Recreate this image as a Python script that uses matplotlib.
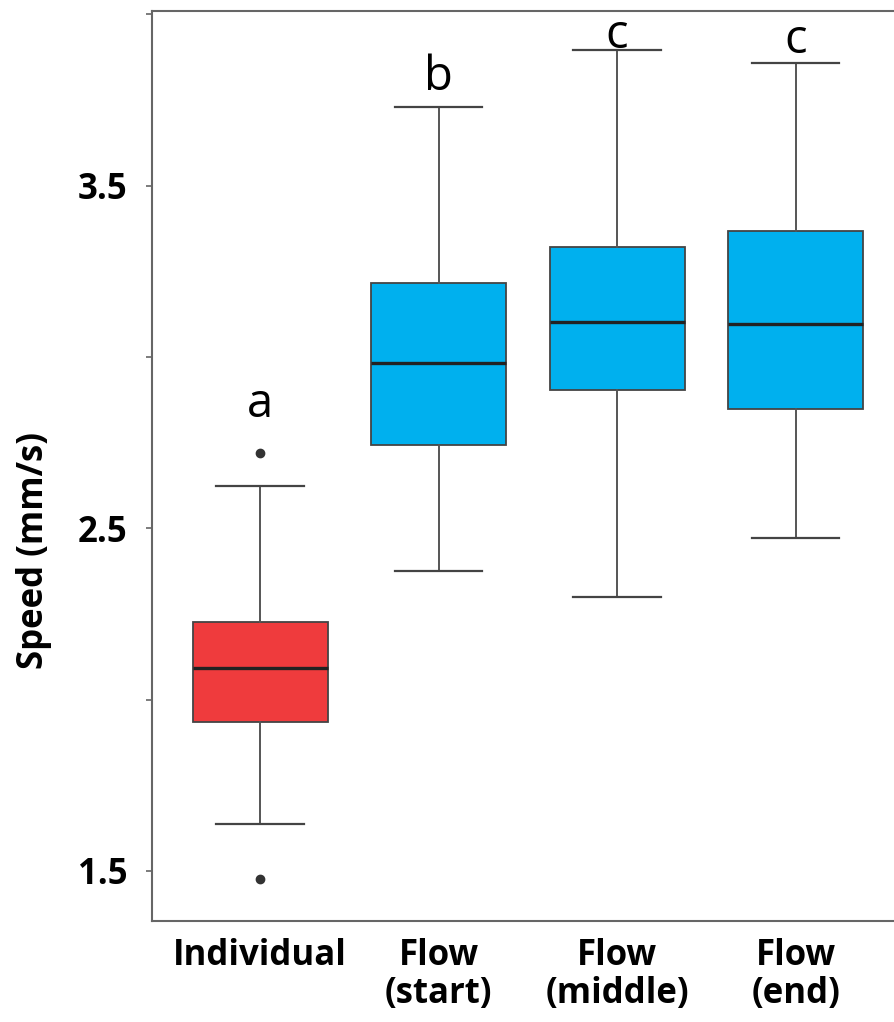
import matplotlib
matplotlib.use("Agg")
import matplotlib.pyplot as plt

# dados (mm/s)
grupos = ["Individual", "Flow\n(start)", "Flow\n(middle)", "Flow\n(end)"]
minimo = [1.636, 2.374, 2.301, 2.471]
q1 = [1.936, 2.742, 2.903, 2.847]
mediana = [2.091, 2.982, 3.101, 3.096]
q3 = [2.228, 3.215, 3.320, 3.367]
maximo = [2.623, 3.729, 3.896, 3.858]
outliers = [[2.719, 1.477], [], [], []]
letras = ["a", "b", "c", "c"]
letras_y = [2.826, 3.780, 3.903, 3.888]
cores = ["#EF3B3D", "#00B0EE", "#00B0EE", "#00B0EE"]

plt.rcParams['font.family'] = ['Open Sans', 'DejaVu Sans']

fig = plt.figure(figsize=(8.95, 10.22), dpi=100)
ax = fig.add_axes([0.170, 0.0988, 0.830, 0.8909])

stats = []
for i in range(len(grupos)):
    stats.append({"whislo": minimo[i], "q1": q1[i], "med": mediana[i],
                  "q3": q3[i], "whishi": maximo[i], "fliers": outliers[i]})

bp = ax.bxp(stats, positions=range(len(grupos)), widths=0.756, capwidths=0.49,
            patch_artist=True,
            boxprops=dict(edgecolor="#444444", linewidth=1.3),
            medianprops=dict(color="#222222", linewidth=2.4),
            whiskerprops=dict(color="#555555", linewidth=1.4),
            capprops=dict(color="#444444", linewidth=1.6),
            flierprops=dict(marker="o", markerfacecolor="#333333",
                            markeredgecolor="#333333", markersize=6))
for caixa, cor in zip(bp["boxes"], cores):
    caixa.set_facecolor(cor)

for i, (l, y) in enumerate(zip(letras, letras_y)):
    ax.text(i, y, l, ha="center", va="baseline", fontsize=34, color="black")

ax.set_xlim(-0.605, 3.557)
ax.set_ylim(1.354, 4.011)
ax.set_yticks([1.5, 2.0, 2.5, 3.0, 3.5, 4.0])
ax.set_yticklabels(["1.5", "", "2.5", "", "3.5", ""], fontsize=25, fontweight="bold")
ax.set_xticks(range(len(grupos)))
ax.set_xticklabels(grupos, fontsize=25, fontweight="bold", linespacing=1.1)
ax.tick_params(axis="x", length=0, pad=12)
ax.tick_params(axis="y", length=4, width=1.2, color="#666666", pad=14)
ax.set_ylabel("Speed (mm/s)", fontsize=25, fontweight="bold")
ax.yaxis.set_label_coords(-0.135, 0.407)

ax.spines["right"].set_visible(False)
for lado in ["left", "top", "bottom"]:
    ax.spines[lado].set_color("#666666")
    ax.spines[lado].set_linewidth(1.5)

fig.savefig("out.png", dpi=100)
